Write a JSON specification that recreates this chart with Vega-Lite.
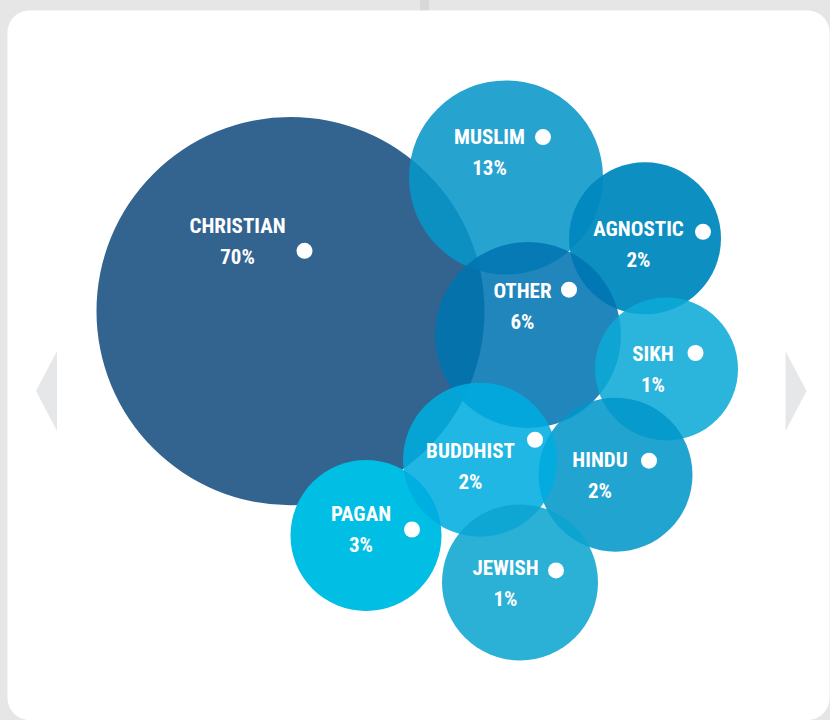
{
  "$schema": "https://vega.github.io/schema/vega-lite/v6.json",
  "width": 830,
  "height": 720,
  "autosize": {"type": "fit", "contains": "padding"},
  "padding": 0,
  "background": "#e6e6e6",
  "config": {"view": {"stroke": null}},
  "datasets": {
    "card": [{"x": 7.5, "x2": 829.5, "y": 10.5, "y2": 722}],
    "tab": [{"x": 420, "x2": 429, "y": 0, "y2": 10.5}],
    "arrows": [{"x": 46.5, "y": 392, "dir": "left"}, {"x": 796, "y": 392, "dir": "right"}],
    "bubbles": [
      {"religion": "Christian", "label": "CHRISTIAN", "pct": "70%", "cx": 290.5, "cy": 312, "r": 194, "lx": 237.5, "ly": 242, "dotx": 304.5, "doty": 251.5},
      {"religion": "Muslim", "label": "MUSLIM", "pct": "13%", "cx": 506, "cy": 178, "r": 97, "lx": 489.5, "ly": 152, "dotx": 543, "doty": 137.5},
      {"religion": "Agnostic", "label": "AGNOSTIC", "pct": "2%", "cx": 645, "cy": 239, "r": 76, "lx": 638.5, "ly": 245, "dotx": 703, "doty": 232.5},
      {"religion": "Other", "label": "OTHER", "pct": "6%", "cx": 528, "cy": 336, "r": 93, "lx": 522.5, "ly": 307, "dotx": 569, "doty": 290.5},
      {"religion": "Sikh", "label": "SIKH", "pct": "1%", "cx": 666.5, "cy": 370, "r": 71.5, "lx": 653, "ly": 370, "dotx": 695.5, "doty": 354},
      {"religion": "Hindu", "label": "HINDU", "pct": "2%", "cx": 615.5, "cy": 476, "r": 77, "lx": 600, "ly": 476, "dotx": 649, "doty": 462},
      {"religion": "Pagan", "label": "PAGAN", "pct": "3%", "cx": 366, "cy": 537, "r": 75.5, "lx": 361, "ly": 530.5, "dotx": 412, "doty": 531},
      {"religion": "Buddhist", "label": "BUDDHIST", "pct": "2%", "cx": 480, "cy": 461, "r": 77, "lx": 470.5, "ly": 467, "dotx": 535, "doty": 441},
      {"religion": "Jewish", "label": "JEWISH", "pct": "1%", "cx": 520, "cy": 584, "r": 78, "lx": 505.5, "ly": 585, "dotx": 556, "doty": 572}
    ]
  },
  "layer": [
    {
      "data": {"name": "tab"},
      "mark": {"type": "rect", "color": "#d8d8d8"},
      "encoding": {
        "x": {"field": "x", "type": "quantitative", "scale": {"domain": [0, 830], "nice": false, "zero": false}, "axis": null},
        "x2": {"field": "x2"},
        "y": {"field": "y", "type": "quantitative", "scale": {"domain": [0, 720], "nice": false, "zero": false, "reverse": true}, "axis": null},
        "y2": {"field": "y2"}
      }
    },
    {
      "data": {"name": "card"},
      "mark": {"type": "rect", "color": "#ffffff", "cornerRadius": 22},
      "encoding": {
        "x": {"field": "x", "type": "quantitative"},
        "x2": {"field": "x2"},
        "y": {"field": "y", "type": "quantitative"},
        "y2": {"field": "y2"}
      }
    },
    {
      "data": {"name": "arrows"},
      "mark": {"type": "point", "filled": true, "color": "#e6e7e8", "size": 1600, "strokeWidth": 0, "opacity": 1},
      "encoding": {
        "x": {"field": "x", "type": "quantitative"},
        "y": {"field": "y", "type": "quantitative"},
        "shape": {"field": "dir", "type": "nominal", "scale": {"domain": ["left", "right"], "range": ["M0.525,-2L-0.525,0L0.525,2Z", "M-0.525,-2L0.525,0L-0.525,2Z"]}, "legend": null}
      }
    },
    {
      "data": {"name": "bubbles"},
      "mark": {"type": "point", "filled": true, "shape": "circle", "strokeWidth": 0},
      "encoding": {
        "x": {"field": "cx", "type": "quantitative"},
        "y": {"field": "cy", "type": "quantitative"},
        "size": {"field": "r", "type": "quantitative", "scale": {"type": "pow", "exponent": 2, "domain": [0, 200], "range": [0, 160000]}, "legend": null},
        "color": {"field": "religion", "type": "nominal", "legend": null,
          "scale": {"domain": ["Christian", "Muslim", "Agnostic", "Other", "Sikh", "Hindu", "Pagan", "Buddhist", "Jewish"],
                    "range": ["#33638f", "#0795c9", "#0089bf", "#0074b1", "#0baad7", "#0196c9", "#00bee4", "#00ace0", "#0ba4d0"]}},
        "opacity": {"condition": [
          {"test": "datum.religion === 'Christian' || datum.religion === 'Pagan'", "value": 1},
          {"test": "datum.religion === 'Agnostic'", "value": 0.95}
        ], "value": 0.87}
      }
    },
    {
      "data": {"name": "bubbles"},
      "mark": {"type": "point", "filled": true, "shape": "circle", "color": "#ffffff", "size": 256, "strokeWidth": 0, "opacity": 1},
      "encoding": {
        "x": {"field": "dotx", "type": "quantitative"},
        "y": {"field": "doty", "type": "quantitative"}
      }
    },
    {
      "data": {"name": "bubbles"},
      "mark": {"type": "text", "font": "Liberation Sans Narrow, Roboto Condensed, DejaVu Sans Condensed, sans-serif", "fontWeight": "bold", "fontSize": 21, "color": "#ffffff", "align": "center", "baseline": "alphabetic", "dy": -8},
      "encoding": {
        "x": {"field": "lx", "type": "quantitative"},
        "y": {"field": "ly", "type": "quantitative"},
        "text": {"field": "label"}
      }
    },
    {
      "data": {"name": "bubbles"},
      "mark": {"type": "text", "font": "Liberation Sans Narrow, Roboto Condensed, DejaVu Sans Condensed, sans-serif", "fontWeight": "bold", "fontSize": 21, "color": "#ffffff", "align": "center", "baseline": "alphabetic", "dy": 23},
      "encoding": {
        "x": {"field": "lx", "type": "quantitative"},
        "y": {"field": "ly", "type": "quantitative"},
        "text": {"field": "pct"}
      }
    }
  ]
}
